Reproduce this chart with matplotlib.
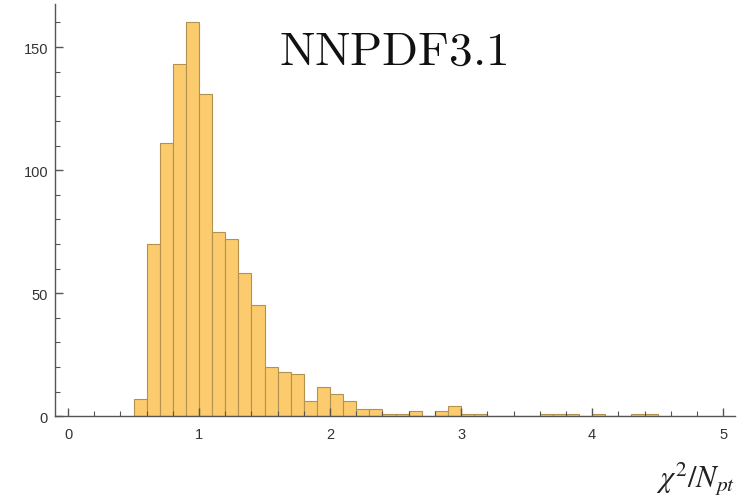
import numpy as np
import matplotlib
matplotlib.use('Agg')
import matplotlib.pyplot as plt
from matplotlib.ticker import MultipleLocator

# histogram of chi2/Npt, bins of width 0.1 starting at 0.5
bin_left = np.round(np.arange(0.5, 4.5, 0.1), 2)
counts = [7, 70, 111, 143, 160, 131, 75, 72, 58, 45,
          20, 18, 17, 6, 12, 9, 6, 3, 3, 1,
          1, 2, 0, 2, 4, 1, 1, 0, 0, 0,
          0, 1, 1, 1, 0, 1, 0, 0, 1, 1]
bin_width = 0.1

x_major = [0, 1, 2, 3, 4, 5]
y_major = [0, 50, 100, 150]

fig = plt.figure(figsize=(7.48, 5.02), dpi=100)
ax = fig.add_axes([0.0735, 0.169, 0.909, 0.821])

ax.bar(bin_left, counts, width=bin_width, align='edge',
       color='#FBCB6E', edgecolor='#B39250', linewidth=0.8)

ax.set_xlim(-0.1, 5.09)
ax.set_ylim(0, 167.5)

for s in ['top', 'right']:
    ax.spines[s].set_visible(False)
for s in ['left', 'bottom']:
    ax.spines[s].set_color('#555555')
    ax.spines[s].set_linewidth(1.0)

ax.set_xticks(x_major)
ax.set_yticks(y_major)
ax.xaxis.set_minor_locator(MultipleLocator(0.2))
ax.yaxis.set_minor_locator(MultipleLocator(10))
ax.tick_params(which='major', direction='in', length=6, width=1.0,
               color='#555555', labelsize=10.5, labelcolor='#333333')
ax.tick_params(axis='x', which='major', pad=8)
ax.tick_params(axis='y', which='major', pad=5)
ax.tick_params(which='minor', direction='in', length=3.5, width=0.8,
               color='#555555')
for lab in ax.get_xticklabels() + ax.get_yticklabels():
    lab.set_family('Liberation Sans')

ax.text(0.497, 0.885, r'$\mathrm{NNPDF3.1}$', transform=ax.transAxes,
        fontsize=34, ha='center', va='center', math_fontfamily='cm',
        color='#111111')

fig.text(0.983, 0.008, r'$\chi^2/N_{pt}$',
         fontsize=22, ha='right', va='bottom', math_fontfamily='stix',
         color='#222222')

fig.savefig('out.png', dpi=100)
